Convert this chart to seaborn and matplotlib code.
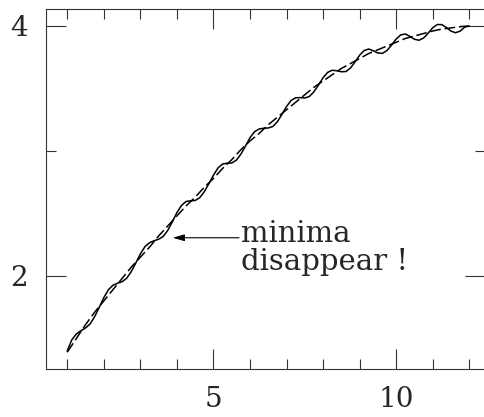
import matplotlib
matplotlib.use("Agg")
import matplotlib.pyplot as plt
import seaborn as sns
import pandas as pd

# ---- data ----
x_smooth = [1.0, 1.125, 1.25, 1.375, 1.5, 1.625, 1.75, 1.875,
            2.0, 2.125, 2.25, 2.375, 2.5, 2.625, 2.75, 2.875,
            3.0, 3.125, 3.25, 3.375, 3.5, 3.625, 3.75, 3.875,
            4.0, 4.125, 4.25, 4.375, 4.5, 4.625, 4.75, 4.875,
            5.0, 5.125, 5.25, 5.375, 5.5, 5.625, 5.75, 5.875,
            6.0, 6.125, 6.25, 6.375, 6.5, 6.625, 6.75, 6.875,
            7.0, 7.125, 7.25, 7.375, 7.5, 7.625, 7.75, 7.875,
            8.0, 8.125, 8.25, 8.375, 8.5, 8.625, 8.75, 8.875,
            9.0, 9.125, 9.25, 9.375, 9.5, 9.625, 9.75, 9.875,
            10.0, 10.125, 10.25, 10.375, 10.5, 10.625, 10.75, 10.875,
            11.0, 11.125, 11.25, 11.375, 11.5, 11.625, 11.75, 11.875,
            12.0]

y_smooth = [1.390, 1.445, 1.500, 1.555, 1.610, 1.660, 1.710, 1.755,
            1.800, 1.845, 1.890, 1.935, 1.980, 2.025, 2.070, 2.110,
            2.150, 2.190, 2.230, 2.275, 2.320, 2.360, 2.400, 2.440,
            2.480, 2.520, 2.560, 2.595, 2.630, 2.670, 2.710, 2.745,
            2.780, 2.820, 2.860, 2.895, 2.930, 2.970, 3.010, 3.045,
            3.080, 3.110, 3.140, 3.175, 3.210, 3.240, 3.270, 3.300,
            3.330, 3.360, 3.390, 3.420, 3.450, 3.480, 3.510, 3.535,
            3.560, 3.585, 3.610, 3.635, 3.660, 3.680, 3.700, 3.720,
            3.740, 3.760, 3.780, 3.795, 3.810, 3.825, 3.840, 3.855,
            3.870, 3.885, 3.900, 3.910, 3.920, 3.930, 3.940, 3.950,
            3.960, 3.968, 3.975, 3.980, 3.985, 3.990, 3.995, 3.998,
            4.000]

x_osc = x_smooth

y_osc = [1.400, 1.489, 1.536, 1.562, 1.584, 1.616, 1.674, 1.748,
         1.826, 1.889, 1.926, 1.942, 1.954, 1.981, 2.034, 2.103,
         2.176, 2.234, 2.266, 2.282, 2.294, 2.316, 2.364, 2.433,
         2.506, 2.564, 2.596, 2.602, 2.604, 2.626, 2.674, 2.738,
         2.806, 2.864, 2.896, 2.902, 2.904, 2.926, 2.974, 3.038,
         3.106, 3.154, 3.176, 3.182, 3.184, 3.196, 3.234, 3.293,
         3.356, 3.404, 3.426, 3.427, 3.424, 3.436, 3.474, 3.528,
         3.586, 3.629, 3.646, 3.642, 3.634, 3.636, 3.664, 3.713,
         3.766, 3.804, 3.816, 3.802, 3.784, 3.781, 3.804, 3.848,
         3.896, 3.929, 3.936, 3.917, 3.894, 3.886, 3.904, 3.943,
         3.986, 4.012, 4.011, 3.987, 3.959, 3.946, 3.959, 3.991,
         4.000]

x_major = [5, 10]
x_minor = [1, 2, 3, 4, 6, 7, 8, 9, 11, 12]
y_major = [2, 4]
y_minor = [3]

note_lines = ["minima", "disappear !"]

# ---- styling ----
sns.set_style("white")
plt.rcParams["font.family"] = ["DejaVu Serif", "DejaVu Sans"]
plt.rcParams["axes.edgecolor"] = "#333333"

fig = plt.figure(figsize=(4.84, 4.17), dpi=100)
ax = fig.add_axes([46 / 484, 48 / 417, (485 - 46) / 484, (408.5 - 48) / 417])

df_s = pd.DataFrame({"x": x_smooth, "y": y_smooth})
df_o = pd.DataFrame({"x": x_osc, "y": y_osc})

sns.lineplot(data=df_s, x="x", y="y", ax=ax, color="black", lw=1.1,
             linestyle=(0, (7, 2.5)), estimator=None, sort=False)
sns.lineplot(data=df_o, x="x", y="y", ax=ax, color="black", lw=1.1,
             estimator=None, sort=False)

ax.set_xlim(0.42, 12.43)
ax.set_ylim(1.256, 4.14)
ax.set_xlabel("")
ax.set_ylabel("")

ax.set_xticks(x_major)
ax.set_xticks(x_minor, minor=True)
ax.set_yticks(y_major)
ax.set_yticks(y_minor, minor=True)
ax.set_xticklabels([str(v) for v in x_major])
ax.set_yticklabels([str(v) for v in y_major])

for s in ax.spines.values():
    s.set_visible(True)
    s.set_linewidth(0.8)
    s.set_color("#333333")

ax.tick_params(which="both", direction="in", top=True, right=True,
               bottom=True, left=True,
               color="#333333", width=0.8, labelsize=20)
ax.tick_params(which="major", length=14.4)
ax.tick_params(which="minor", length=7.2)
ax.tick_params(axis="y", which="major", pad=13)
ax.tick_params(axis="x", which="major", pad=12)

ax.annotate("", xy=(3.885, 2.306), xytext=(5.70, 2.306),
            arrowprops=dict(arrowstyle="-|>,head_length=0.35,head_width=0.1",
                            color="black", lw=0.8, shrinkA=0, shrinkB=0),
            fontsize=20)
ax.text(5.76, 2.272, note_lines[0], fontsize=21, ha="left", va="baseline")
ax.text(5.76, 2.045, note_lines[1], fontsize=21, ha="left", va="baseline")

fig.savefig("out.png", dpi=100)
